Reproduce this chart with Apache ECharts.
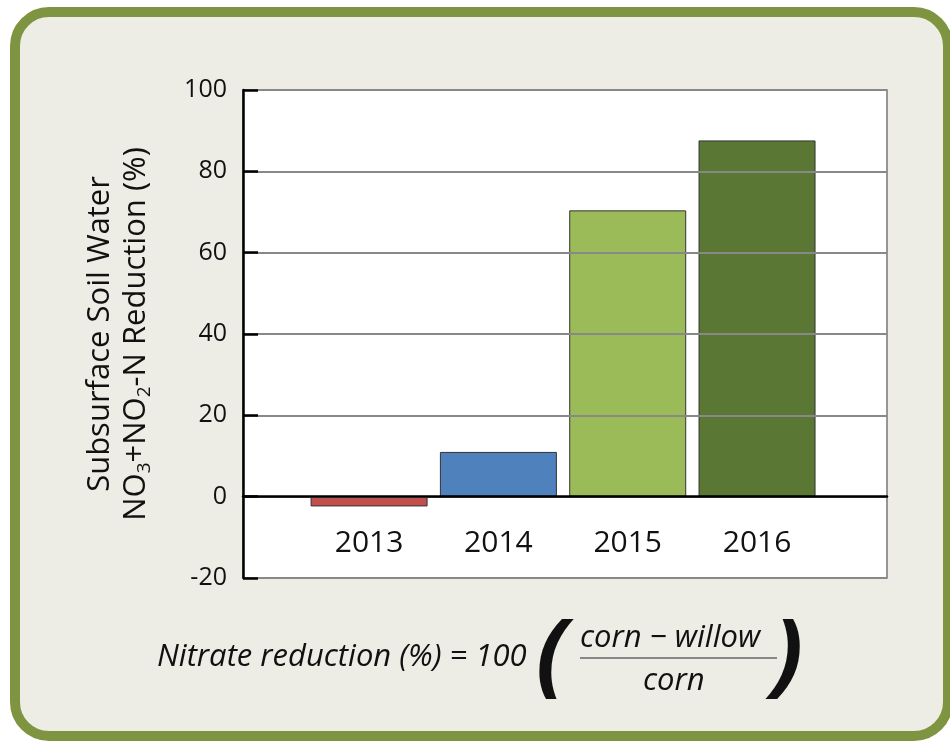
<!DOCTYPE html>
<html>
<head>
<meta charset="utf-8">
<script src="https://cdn.jsdelivr.net/npm/echarts@6/dist/echarts.min.js"></script>
<style>
html,body{margin:0;padding:0;background:#ffffff;}
#chart{width:950px;height:743px;}
</style>
</head>
<body>
<div id="chart"></div>
<script>
// Data
const years = ['2013', '2014', '2015', '2016'];
const reduction = [-2.4, 11.0, 70.4, 87.6];
const barColors = ['#c0504d', '#4f81bd', '#9bbb59', '#5a7834'];
const yTicks = [-20, 0, 20, 40, 60, 80, 100];

const FONT = '"Open Sans", "Noto Sans", sans-serif';

const chart = echarts.init(document.getElementById('chart'), null, {renderer: 'canvas'});

const seriesData = reduction.map((v, i) => ({
  value: [i, v],
  itemStyle: {color: barColors[i]}
}));

const option = {
  backgroundColor: '#ffffff',
  animation: false,
  textStyle: {fontFamily: FONT},
  grid: {
    left: 243, right: 63, top: 90, bottom: 165,
    show: true, backgroundColor: '#ffffff',
    borderColor: '#777777', borderWidth: 1.5
  },
  graphic: [
    {
      type: 'rect', z: -10, silent: true,
      shape: {x: 15, y: 12, width: 933, height: 724, r: 34},
      style: {fill: '#eeede5', stroke: '#7f9440', lineWidth: 10}
    },
    {
      type: 'text', left: 157, top: 642, z: 10,
      style: {text: 'Nitrate reduction (%) = 100', font: 'italic 31px ' + FONT, fill: '#111'}
    },
    {
      type: 'text', left: 536, top: 613, z: 10,
      style: {text: '(', font: 'italic bold 92px ' + FONT, fill: '#111'}
    },
    {
      type: 'text', left: 580, top: 623, z: 10,
      style: {text: 'corn \u2212 willow', font: 'italic 31px ' + FONT, fill: '#111'}
    },
    {
      type: 'line', z: 10,
      shape: {x1: 580, y1: 658, x2: 777, y2: 658},
      style: {stroke: '#888', lineWidth: 2}
    },
    {
      type: 'text', left: 643, top: 666, z: 10,
      style: {text: 'corn', font: 'italic 31px ' + FONT, fill: '#111'}
    },
    {
      type: 'text', left: 772, top: 613, z: 10,
      style: {text: ')', font: 'italic bold 92px ' + FONT, fill: '#111'}
    }
  ],
  xAxis: {
    type: 'value',
    min: -0.975, max: 4.005,
    axisLine: {show: true, onZero: true, lineStyle: {color: '#000', width: 2.5}},
    axisTick: {show: false},
    splitLine: {show: false},
    axisLabel: {
      show: true, fontSize: 30, color: '#111', margin: -50, fontFamily: FONT,
      showMinLabel: false, showMaxLabel: false,
      formatter: function (v) {
        return (Number.isInteger(v) && v >= 0 && v < years.length) ? years[v] : '';
      }
    },
    z: 5
  },
  yAxis: {
    type: 'value',
    min: yTicks[0], max: yTicks[yTicks.length - 1], interval: 20,
    axisLine: {show: true, onZero: false, lineStyle: {color: '#000', width: 2.5}},
    axisTick: {show: true, inside: true, length: 15, lineStyle: {color: '#000', width: 2.5}},
    splitLine: {show: true, lineStyle: {color: '#888', width: 2}},
    axisLabel: {fontSize: 25, color: '#111', margin: 16, fontFamily: FONT},
    name: 'Subsurface Soil Water\nNO{sub|3}+NO{sub|2}-N Reduction (%)',
    nameLocation: 'middle',
    nameRotate: 90,
    nameGap: 89,
    nameTextStyle: {
      fontSize: 31, color: '#111', fontFamily: FONT, lineHeight: 36,
      rich: {
        sub: {fontSize: 19, verticalAlign: 'bottom', lineHeight: 26, color: '#111', fontFamily: FONT}
      }
    },
    z: 5
  },
  series: [{
    type: 'bar',
    data: seriesData,
    barWidth: 117,
    itemStyle: {borderColor: '#333', borderWidth: 1},
    z: 3
  }]
};

chart.setOption(option);
</script>
</body>
</html>
